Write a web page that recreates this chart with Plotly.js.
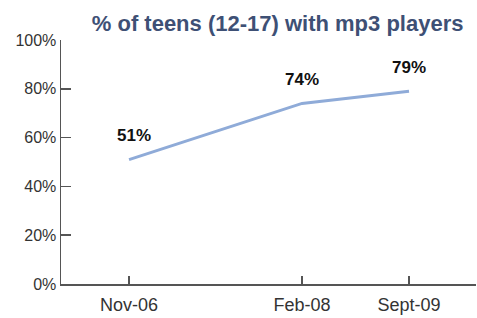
<!DOCTYPE html>
<html>
<head>
<meta charset="utf-8">
<script src="https://cdn.plot.ly/plotly-3.0.1.min.js"></script>
<style>html,body{margin:0;padding:0;background:#fff;}#chart{width:477px;height:318px;}</style>
</head>
<body>
<div id="chart"></div>
<script>
var categories = ["Nov-06", "Feb-08", "Sept-09"];
var xPositions = [0, 1.617, 2.617];
var values = [51, 74, 79];
var valueLabels = ["51%", "74%", "79%"];
var yTicks = [0, 20, 40, 60, 80, 100];
var yTickLabels = ["0%", "20%", "40%", "60%", "80%", "100%"];

var trace = {
  x: xPositions,
  y: values,
  mode: "lines",
  line: {color: "#8fabd8", width: 3},
  hoverinfo: "none"
};

var annotations = xPositions.map(function (x, i) {
  return {
    x: x, y: values[i], xref: "x", yref: "y",
    text: "<b>" + valueLabels[i] + "</b>",
    showarrow: false, yshift: 24, xshift: i === 0 ? 5 : 0,
    font: {family: "Liberation Sans, Arial, sans-serif", size: 17, color: "#111"}
  };
});

var layout = {
  width: 477, height: 318,
  margin: {l: 61, r: 1, t: 40, b: 34},
  paper_bgcolor: "#fff", plot_bgcolor: "#fff",
  showlegend: false,
  title: {
    text: "<b>% of teens (12-17) with mp3 players</b>",
    font: {family: "Liberation Sans, Arial, sans-serif", size: 22, color: "#3e5075"},
    x: 0.582, xanchor: "center", y: 0.928, yanchor: "middle"
  },
  xaxis: {
    range: [-0.636, 3.243],
    tickvals: xPositions, ticktext: categories,
    ticks: "inside", ticklen: 8, tickcolor: "#555", tickwidth: 1.5,
    ticklabelstandoff: 4,
    showline: true, linecolor: "#555", linewidth: 1.5,
    showgrid: false, zeroline: false,
    tickfont: {family: "Liberation Sans, Arial, sans-serif", size: 18, color: "#333"}
  },
  yaxis: {
    range: [0, 100],
    tickvals: yTicks, ticktext: yTickLabels,
    ticks: "inside", ticklen: 10, tickcolor: "#555", tickwidth: 1.5,
    showline: true, linecolor: "#555", linewidth: 1.5,
    showgrid: false, zeroline: false,
    tickfont: {family: "Liberation Sans, Arial, sans-serif", size: 16, color: "#333"}
  },
  annotations: annotations
};

Plotly.newPlot("chart", [trace], layout, {staticPlot: true, displayModeBar: false});
</script>
</body>
</html>
